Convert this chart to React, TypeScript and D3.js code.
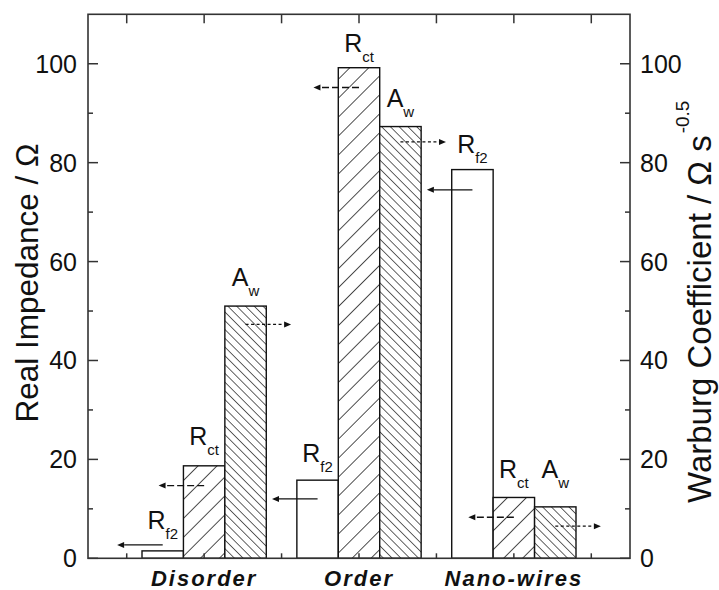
import React from "react";
import * as d3 from "d3";

const categories = ["Disorder", "Order", "Nano-wires"];
const categoryPos = [2, 4, 6];
const rf2Values = [1.5, 15.8, 78.6];
const rctValues = [18.7, 99.2, 12.3];
const awValues = [51.0, 87.3, 10.4];
// annotation anchors in data units (arrow heights and label baselines)
const rf2Arrow = [2.7, 12.0, 74.5];
const rctArrow = [14.7, 95.2, 8.3];
const awArrow = [47.3, 84.2, 6.5];
const rf2Label = [5.9, 19.4, 81.9];
const rctLabel = [22.9, 102.3, 16.2];
const awLabel = [55.0, 91.2, 16.2];
const yTicks = [0, 20, 40, 60, 80, 100];
const yMinor = [10, 30, 50, 70, 90];
const xTicks = [1, 2, 3, 4, 5, 6, 7];

const W = 719;
const H = 590;
const FONT = "'Liberation Sans', Arial, Helvetica, sans-serif";

export default function App() {
  const x = d3.scaleLinear().domain([0.5, 7.5]).range([88, 630]);
  const y = d3.scaleLinear().domain([0, 110]).range([558.3, 14.3]);
  const bw = 0.535;
  const x0 = x.range()[0];
  const x1 = x.range()[1];
  const y0 = y.range()[0];
  const y1 = y.range()[1];

  const series = [
    { main: "R", sub: "f2", values: rf2Values, arrow: rf2Arrow, label: rf2Label, fill: "#fff", dir: -1, dash: "none", off: -1 },
    { main: "R", sub: "ct", values: rctValues, arrow: rctArrow, label: rctLabel, fill: "url(#hatchF)", dir: -1, dash: "7,3", off: 0 },
    { main: "A", sub: "w", values: awValues, arrow: awArrow, label: awLabel, fill: "url(#hatchB)", dir: 1, dash: "3,2.5", off: 1 },
  ];

  const pxBw = x(bw) - x(0);

  return (
    <svg width={W} height={H} style={{ position: "absolute", left: 0, top: 0, background: "#fff" }} fontFamily={FONT}>
      <defs>
        <pattern id="hatchF" patternUnits="userSpaceOnUse" width={13.4} height={13.4} patternTransform="rotate(45)">
          <rect width={13.4} height={13.4} fill="#fff" />
          <line x1={0} y1={0} x2={0} y2={13.4} stroke="#222" strokeWidth={1.6} />
        </pattern>
        <pattern id="hatchB" patternUnits="userSpaceOnUse" width={6.2} height={6.2} patternTransform="rotate(-45)">
          <rect width={6.2} height={6.2} fill="#fff" />
          <line x1={0} y1={0} x2={0} y2={6.2} stroke="#222" strokeWidth={1.4} />
        </pattern>
      </defs>

      {/* bars */}
      {series.map((s, si) =>
        s.values.map((v, i) => {
          const left = x(categoryPos[i] + (s.off - 0.5) * bw);
          const right = x(categoryPos[i] + (s.off + 0.5) * bw);
          return (
            <rect key={`b${si}-${i}`} x={left} y={y(v)} width={right - left} height={y(0) - y(v)}
              fill={s.fill} stroke="#111" strokeWidth={1.4} />
          );
        })
      )}

      {/* arrows */}
      {series.map((s, si) =>
        s.arrow.map((a, i) => {
          const cx = x(categoryPos[i] + s.off * bw);
          const ay = y(a);
          const tip = cx + s.dir * pxBw * 1.1;
          const head = 7;
          return (
            <g key={`a${si}-${i}`}>
              <line x1={cx} y1={ay} x2={tip - s.dir * head} y2={ay} stroke="#111" strokeWidth={1.3}
                strokeDasharray={s.dash} />
              <path d={`M${tip},${ay} L${tip - s.dir * head},${ay - 3} L${tip - s.dir * head},${ay + 3} Z`} fill="#111" />
            </g>
          );
        })
      )}

      {/* bar labels */}
      {series.map((s, si) =>
        s.label.map((l, i) => {
          const cx = x(categoryPos[i] + s.off * bw);
          return (
            <text key={`l${si}-${i}`} x={cx} y={y(l)} textAnchor="middle" fontSize={25} fill="#111">
              {s.main}
              <tspan fontSize={15} dy={10}>{s.sub}</tspan>
            </text>
          );
        })
      )}

      {/* frame */}
      <rect x={x0} y={y1} width={x1 - x0} height={y0 - y1} fill="none" stroke="#333" strokeWidth={1.6} />

      {/* y ticks left & right */}
      {yTicks.map((t) => (
        <g key={`yt${t}`}>
          <line x1={x0} x2={x0 + 10} y1={y(t)} y2={y(t)} stroke="#333" strokeWidth={1.5} />
          <line x1={x1} x2={x1 - 10} y1={y(t)} y2={y(t)} stroke="#333" strokeWidth={1.5} />
          <text x={77} y={y(t)} dy="0.36em" textAnchor="end" fontSize={25} fill="#111">{t}</text>
          <text x={640} y={y(t)} dy="0.36em" textAnchor="start" fontSize={25} fill="#111">{t}</text>
        </g>
      ))}
      {yMinor.map((t) => (
        <g key={`ym${t}`}>
          <line x1={x0} x2={x0 + 5} y1={y(t)} y2={y(t)} stroke="#333" strokeWidth={1.5} />
          <line x1={x1} x2={x1 - 5} y1={y(t)} y2={y(t)} stroke="#333" strokeWidth={1.5} />
        </g>
      ))}

      {/* x ticks */}
      {xTicks.map((t) => (
        <g key={`xt${t}`}>
          <line x1={x(t)} x2={x(t)} y1={y1} y2={y1 + 9} stroke="#333" strokeWidth={1.5} />
          <line x1={x(t)} x2={x(t)} y1={y0} y2={y0 - 5} stroke="#333" strokeWidth={1.5} />
        </g>
      ))}

      {/* category labels */}
      {categories.map((c, i) => (
        <text key={c} x={x(categoryPos[i])} y={586} textAnchor="middle" fontSize={22} fontWeight="bold"
          fontStyle="italic" letterSpacing={2} fill="#111">{c}</text>
      ))}

      {/* axis titles */}
      <text transform={`translate(38,283) rotate(-90)`} textAnchor="middle" fontSize={31.5} fill="#111">
        Real Impedance / Ω
      </text>
      <text transform={`translate(711,503) rotate(-90)`} textAnchor="start" fontSize={33} fill="#111">
        Warburg Coefficient / Ω s
        <tspan fontSize={19} dy={-22} dx={2}>-0.5</tspan>
      </text>
    </svg>
  );
}
